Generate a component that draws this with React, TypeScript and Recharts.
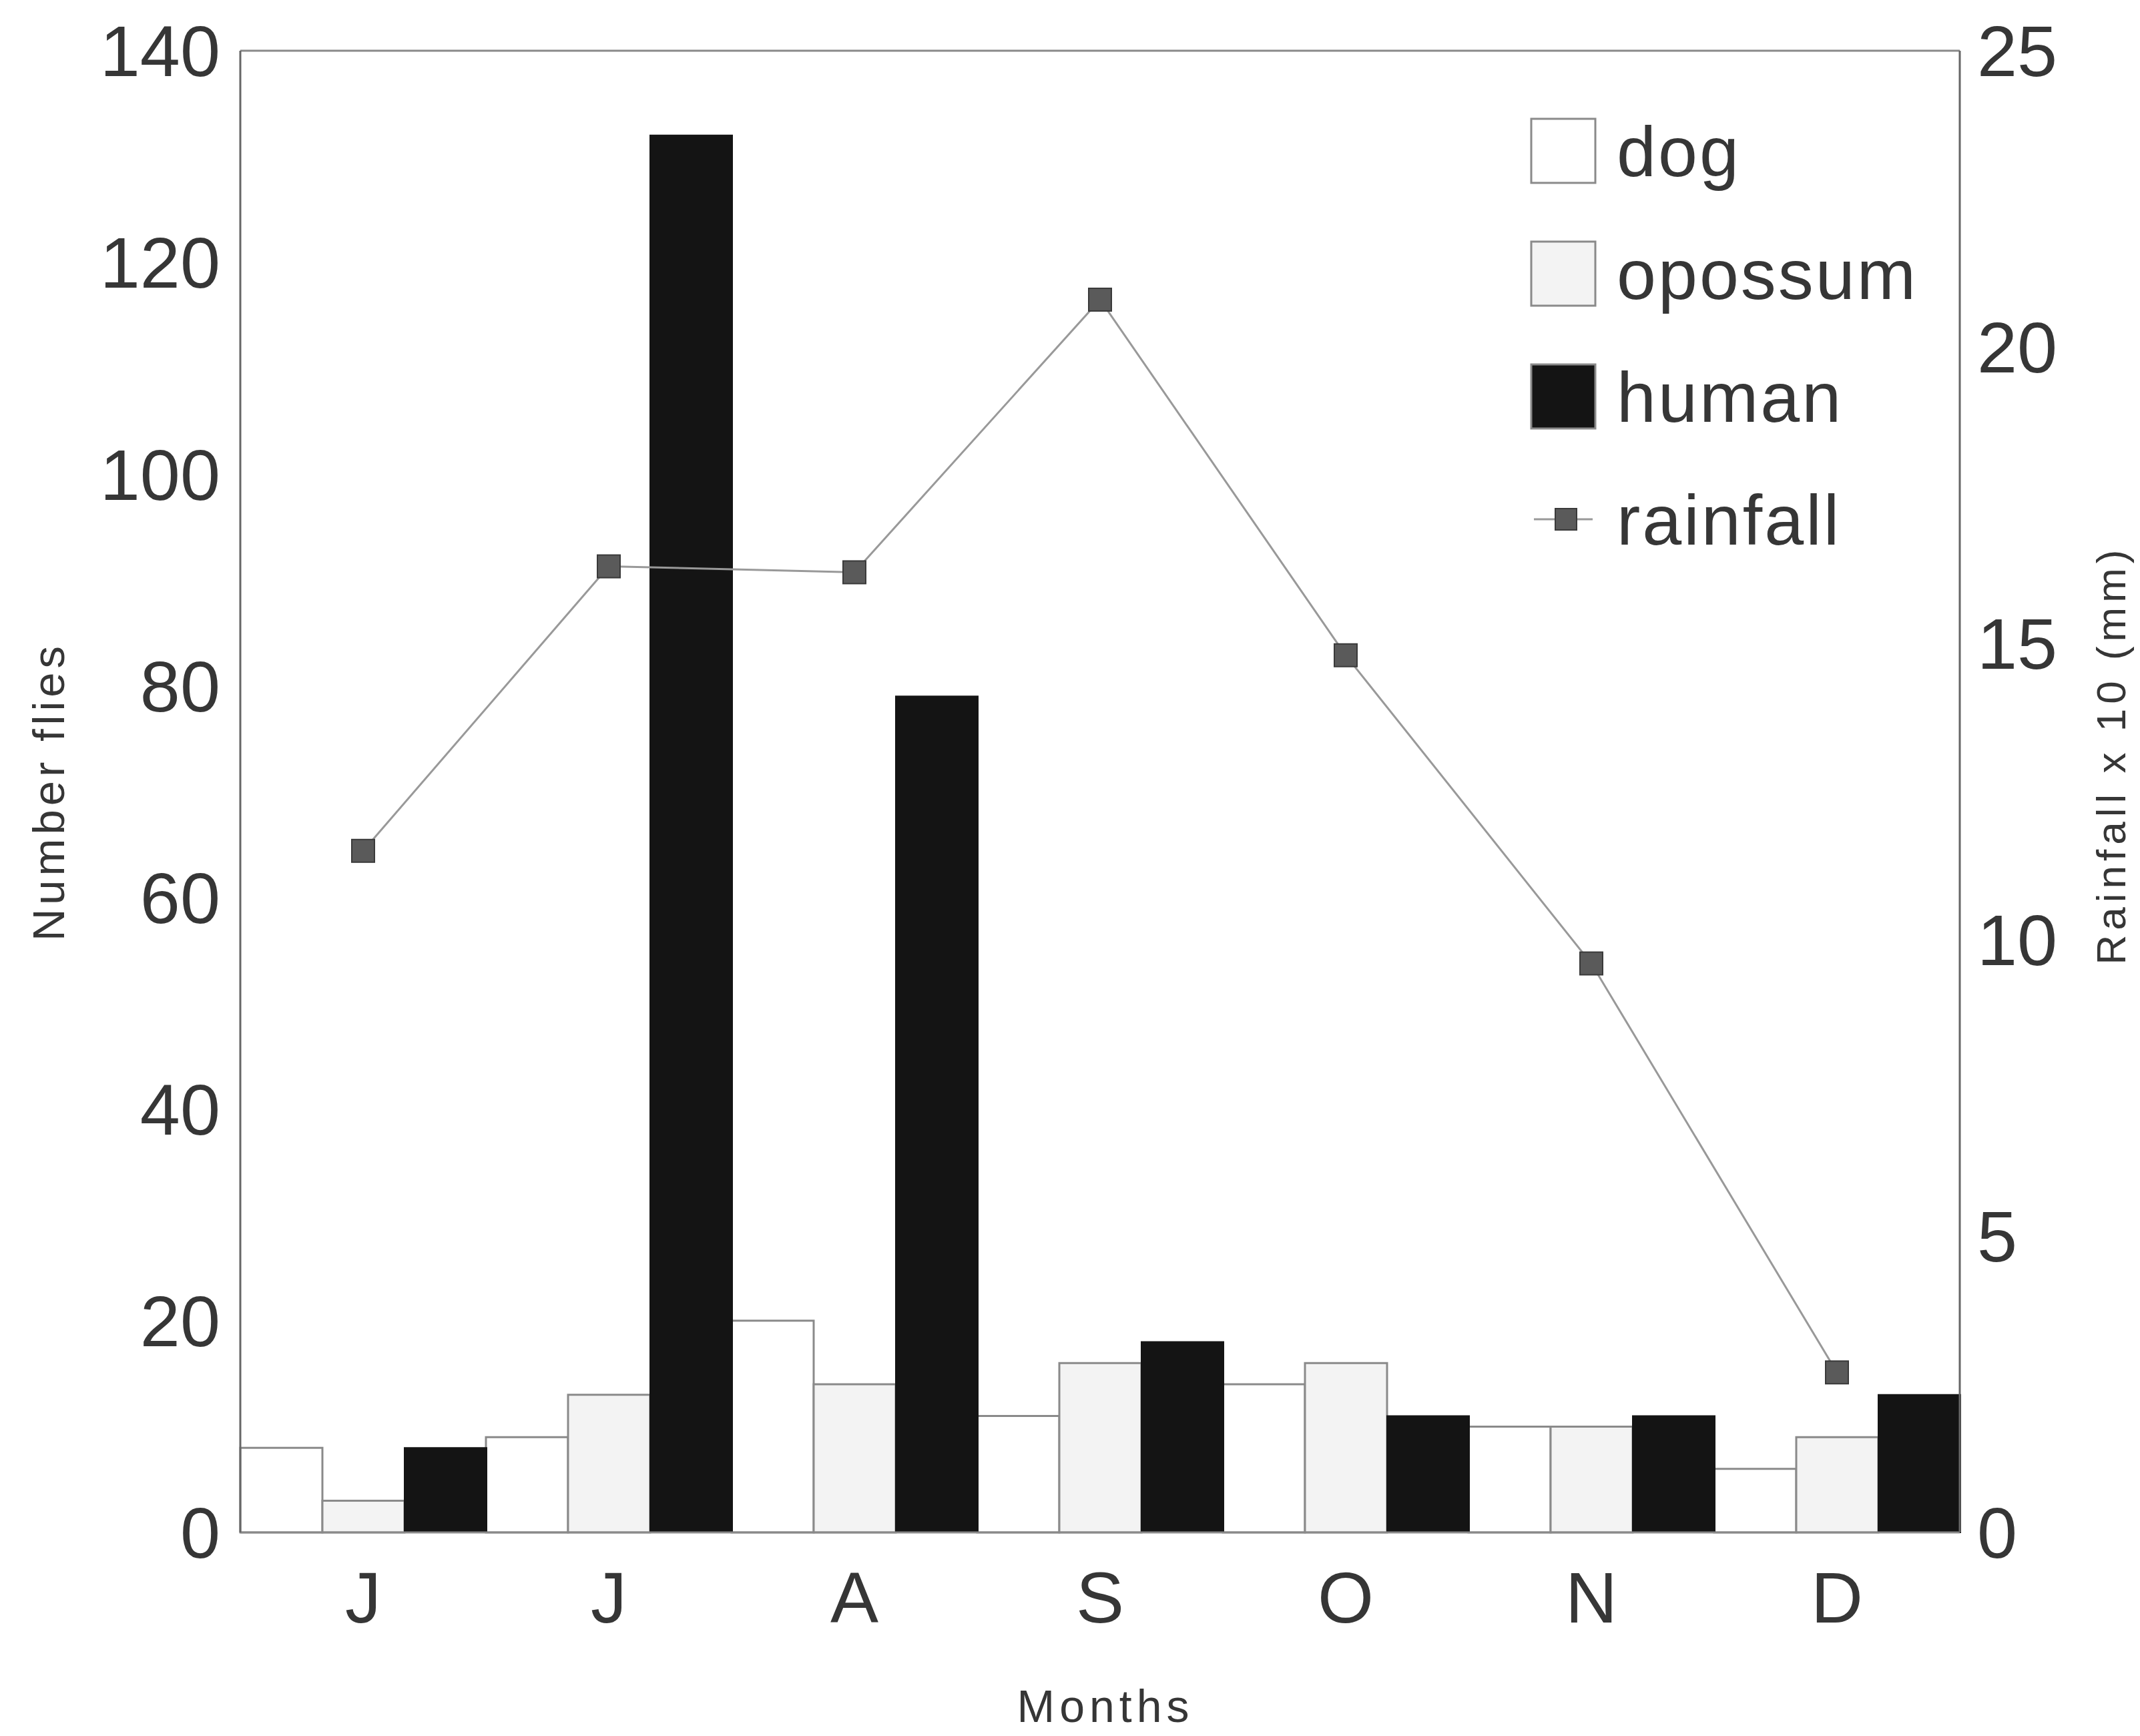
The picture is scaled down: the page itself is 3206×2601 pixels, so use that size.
import { ComposedChart, Bar, Line, XAxis, YAxis, Legend, ReferenceLine } from "recharts"

const months = ["Jun", "Jul", "Aug", "Sep", "Oct", "Nov", "Dec"]
const monthLabels = ["J", "J", "A", "S", "O", "N", "D"]
const dog = [8, 9, 20, 11, 14, 10, 6]
const opossum = [3, 13, 14, 16, 16, 10, 9]
const human = [8, 132, 79, 18, 11, 11, 13]
const rainfall = [11.5, 16.3, 16.2, 20.8, 14.8, 9.6, 2.7]
const fliesTicks = [0, 20, 40, 60, 80, 100, 120, 140]
const rainTicks = [0, 5, 10, 15, 20, 25]

const data = months.map((m, i) => ({
  month: m,
  dog: dog[i],
  opossum: opossum[i],
  human: human[i],
  rainfall: rainfall[i],
}))

const FONT = "'Liberation Sans', Arial, sans-serif"
const TEXT = "#363636"
const EDGE = "#8a8a8a"

const legendItems = [
  { name: "dog", fill: "#ffffff", kind: "box" },
  { name: "opossum", fill: "#f3f3f3", kind: "box" },
  { name: "human", fill: "#141414", kind: "box" },
  { name: "rainfall", fill: "#555", kind: "line" },
]

function SquareDot(props: any) {
  const { cx, cy, index } = props
  if (cx == null || cy == null) return null
  return <rect key={`dot-${index}`} x={cx - 17} y={cy - 17} width={34} height={34} fill="#5a5a5a" stroke="#3a3a3a" strokeWidth={2} />
}

function ChartLegend() {
  return (
    <div style={{ fontFamily: FONT }}>
      {legendItems.map((item) => (
        <div key={item.name} style={{ display: "flex", alignItems: "center", height: 184 }}>
          <svg width={110} height={110} style={{ marginRight: 22 }}>
            {item.kind === "box" ? (
              <rect x={4} y={6} width={96} height={96} fill={item.fill} stroke={EDGE} strokeWidth={3} />
            ) : (
              <g>
                <line x1={8} x2={96} y1={54} y2={54} stroke="#999" strokeWidth={3} />
                <rect x={40} y={38} width={32} height={32} fill="#5a5a5a" stroke="#3a3a3a" strokeWidth={2} />
              </g>
            )}
          </svg>
          <span style={{ fontSize: 106, color: TEXT, letterSpacing: 3, lineHeight: 1 }}>{item.name}</span>
        </div>
      ))}
    </div>
  )
}

function LeftTitle(props: any) {
  const vb = props.viewBox || { x: 0, y: 76, width: 360, height: 2220 }
  const x = vb.x + 72
  const y = vb.y + vb.height / 2
  return (
    <text x={x} y={y} transform={`rotate(-90, ${x}, ${y})`} textAnchor="middle" dominantBaseline="central"
      fontSize={67} letterSpacing={6} fill={TEXT} fontFamily={FONT}>
      Number flies
    </text>
  )
}

function RightTitle(props: any) {
  const vb = props.viewBox || { x: 2936, y: 76, width: 270, height: 2220 }
  const x = vb.x + 226
  const y = vb.y + vb.height / 2 - 55
  return (
    <text x={x} y={y} transform={`rotate(-90, ${x}, ${y})`} textAnchor="middle" dominantBaseline="central"
      fontSize={62} letterSpacing={7} fill={TEXT} fontFamily={FONT}>
      Rainfall x 10 (mm)
    </text>
  )
}

function BottomTitle(props: any) {
  const vb = props.viewBox || { x: 360, y: 2296, width: 2576, height: 305 }
  return (
    <text x={vb.x + vb.width / 2 + 8} y={vb.y + 260} textAnchor="middle" dominantBaseline="central"
      fontSize={68} letterSpacing={7} fill={TEXT} fontFamily={FONT}>
      Months
    </text>
  )
}

export default function App() {
  const tickStyle = { fontSize: 108, fill: TEXT, fontFamily: FONT }
  return (
    <div style={{ position: "absolute", left: 0, top: 0, width: 3206, height: 2601, background: "#fff" }}>
      <ComposedChart
        width={3206}
        height={2601}
        data={data}
        margin={{ top: 76, right: 0, bottom: 0, left: 0 }}
        barCategoryGap={0}
        barGap={0}
      >
        <XAxis
          dataKey="month"
          xAxisId="x"
          height={305}
          tickLine={false}
          tickSize={0}
          tickMargin={58}
          axisLine={{ stroke: EDGE, strokeWidth: 3 }}
          tick={tickStyle}
          tickFormatter={(v: string, i: number) => monthLabels[i] ?? v}
          label={BottomTitle}
        />
        <YAxis
          yAxisId="left"
          orientation="left"
          width={360}
          domain={[0, 140]}
          ticks={fliesTicks}
          tickLine={false}
          tickSize={0}
          tickMargin={30}
          axisLine={{ stroke: "#666", strokeWidth: 3 }}
          tick={tickStyle}
          label={LeftTitle}
        />
        <YAxis
          yAxisId="right"
          orientation="right"
          width={270}
          domain={[0, 25]}
          ticks={rainTicks}
          tickLine={false}
          tickSize={0}
          tickMargin={26}
          axisLine={{ stroke: "#666", strokeWidth: 3 }}
          tick={{ ...tickStyle, textAnchor: "start" }}
          label={RightTitle}
        />
        <ReferenceLine yAxisId="left" xAxisId="x" y={140} stroke={EDGE} strokeWidth={3} />
        <Bar xAxisId="x" yAxisId="left" dataKey="dog" name="dog" fill="#ffffff" stroke={EDGE} strokeWidth={3} isAnimationActive={false} />
        <Bar xAxisId="x" yAxisId="left" dataKey="opossum" name="opossum" fill="#f3f3f3" stroke={EDGE} strokeWidth={3} isAnimationActive={false} />
        <Bar xAxisId="x" yAxisId="left" dataKey="human" name="human" fill="#141414" stroke="#141414" strokeWidth={2} isAnimationActive={false} />
        <Line
          xAxisId="x"
          yAxisId="right"
          dataKey="rainfall"
          name="rainfall"
          type="linear"
          stroke="#999"
          strokeWidth={3}
          dot={SquareDot}
          activeDot={false}
          isAnimationActive={false}
        />
        <Legend
          layout="vertical"
          align="center"
          verticalAlign="middle"
          content={ChartLegend}
          wrapperStyle={{ top: 135, left: 2290, width: 700, height: 740 }}
        />
      </ComposedChart>
    </div>
  )
}
